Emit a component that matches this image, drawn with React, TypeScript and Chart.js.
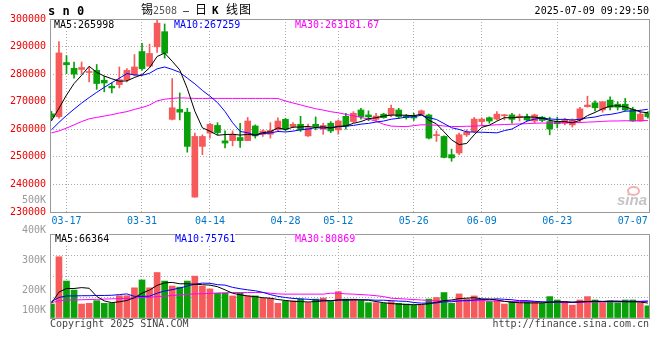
import React, { useEffect, useRef } from 'react';
import { Chart, registerables } from 'chart.js';

Chart.register(...registerables);

// ---------- data ----------
const dates = [
  '03-13','03-14','03-17','03-18','03-19','03-20','03-21','03-24','03-25','03-26',
  '03-27','03-28','03-31','04-01','04-02','04-03','04-07','04-08','04-09','04-10',
  '04-11','04-14','04-15','04-16','04-17','04-18','04-21','04-22','04-23','04-24',
  '04-25','04-28','04-29','04-30','05-06','05-07','05-08','05-09','05-12','05-13',
  '05-14','05-15','05-16','05-19','05-20','05-21','05-22','05-23','05-26','05-27',
  '05-28','05-29','05-30','06-03','06-04','06-05','06-06','06-09','06-10','06-11',
  '06-12','06-13','06-16','06-17','06-18','06-19','06-20','06-23','06-24','06-25',
  '06-26','06-27','06-30','07-01','07-02','07-03','07-04','07-07','07-08','07-09',
];

const opens = [
  265600,264600,284200,282100,281700,280600,281400,277800,275600,276200,
  278000,279800,288200,282900,289900,295400,263600,267200,266200,235400,
  253800,258600,261400,255800,255900,257000,255900,261200,258200,258200,
  259800,263600,261000,261800,257600,261800,260000,262200,259800,264700,
  262800,267000,265200,263600,265500,265200,267000,264900,264900,265400,
  265200,257700,257400,250800,251400,258000,259200,262800,264200,263700,
  264900,265200,264400,264600,263000,264400,262800,262800,262200,261600,
  263400,268200,269600,267000,270600,269100,269100,267200,263000,265800,
];
const highs = [
  266500,291800,286700,284400,284400,282600,283500,279200,276800,282600,
  282000,287100,291200,290900,299800,298200,278400,273200,267600,258600,
  258000,262200,262400,259400,259400,262200,264300,261600,259800,262400,
  264200,264000,262400,264700,261900,264500,262200,262800,263400,265800,
  266400,267600,266700,265800,265800,268800,267600,265400,265800,267000,
  265500,259400,257600,252800,258600,259800,264300,264200,264500,266400,
  265400,265800,265500,265500,265500,264600,264400,264400,264000,263800,
  268000,272000,270300,270000,271800,270000,271200,268000,267000,266400,
];
const lows = [
  263500,264000,280200,278500,280200,277200,274500,273600,273200,275000,
  277200,279300,281400,282600,287900,285800,263400,263400,251700,235400,
  250800,256800,258000,253200,254000,253400,255900,256800,257400,256800,
  259400,259400,260600,259200,257400,259800,258200,258800,258200,260000,
  262400,263700,263100,263000,264000,264600,264000,263700,263200,265000,
  256500,255600,249600,248400,250800,257400,258900,261200,262200,263400,
  263400,262200,263000,263000,262200,262800,258000,260500,261600,260800,
  262800,268000,266700,266200,267000,267000,266700,262900,262900,264000,
];
const closes = [
  264400,287700,283400,280000,282400,280800,276600,276800,275000,278000,
  281400,282600,282000,287500,298500,287600,267800,266200,253800,257400,
  257400,261800,258800,255000,258000,255900,263000,257600,259400,259600,
  263000,260000,261800,259800,260600,261000,261400,259400,263000,261200,
  265800,264600,264500,264800,264200,267600,264600,264200,264100,266700,
  256800,258000,249800,249600,258000,258900,263700,263700,263000,265500,
  265100,263600,264700,263400,265200,263200,260100,262000,263400,263200,
  267400,268800,267800,270000,268000,268000,267000,263000,265500,264600,
];

const ma5 = [
  263000,267600,272400,276600,279580,282860,280640,279320,278320,277440,
  277560,278760,279800,282300,286400,287640,284680,281520,274780,266560,
  260520,259320,257840,258080,258200,257900,258140,257900,258780,259100,
  260520,259920,260760,260840,261040,260640,260920,260440,261080,261200,
  262160,262800,263820,264180,264780,265140,265140,265080,264940,265440,
  263280,261960,259080,256180,254440,254860,258000,260700,261460,262960,
  264200,264180,264380,264460,264400,264020,263240,262780,262780,262380,
  263220,264960,266120,267440,268400,268520,268160,267200,266300,265998,
];
const ma10 = [
  259800,262500,265000,267300,269500,271500,273400,275200,276900,278510,
  280210,279700,279560,280310,281920,282600,281720,280660,278540,276480,
  274080,272000,269680,266430,262380,259210,258730,257870,258430,258650,
  259210,259030,259330,259810,260070,260580,260420,260600,260960,261120,
  261400,261860,262130,262630,262990,263650,263970,264450,264560,265110,
  264210,263550,262080,260560,259940,259070,258980,258930,258820,258700,
  259530,260090,261580,262960,263680,264110,263750,263580,263620,263390,
  263620,264140,264450,265110,265390,265870,266560,266660,266870,267259,
];
const ma30 = [
  258700,259400,260400,261600,262800,263800,264300,264800,265300,265900,
  266400,267200,267900,268800,270300,270900,271200,271400,271300,271200,
  271200,271200,271200,271200,271200,271200,271200,271200,271200,271213,
  271167,270243,269523,268850,268123,267463,266957,266377,265977,265417,
  264897,264297,263713,262957,261813,261147,261040,260973,261317,261627,
  261607,261480,261180,261000,261000,261100,261123,261327,261447,261643,
  261713,261833,261930,262050,262203,262277,262233,262320,262333,262400,
  262453,262593,262703,262877,263003,263017,263097,263057,263103,263181.67,
];

const volumes = [
  62000,272000,164000,124000,62000,65000,77000,65000,65000,99000,
  99000,134000,169000,134000,202000,164000,142000,137000,164000,186000,
  142000,129000,110000,110000,98000,110000,98000,98000,87000,87000,
  65000,76000,76000,84000,68000,84000,89000,73000,117000,84000,
  84000,77000,68000,68000,65000,73000,65000,62000,57000,57000,
  84000,91000,113000,65000,107000,84000,98000,80000,73000,77000,
  62000,73000,68000,73000,73000,65000,95000,80000,73000,57000,
  80000,95000,80000,68000,76000,68000,80000,80000,68000,54000,
];
const volMa5 = [
  65000,115000,131000,131000,135000,132000,96000,76000,68000,72000,
  78000,90000,110000,124000,145000,156000,158000,152000,152000,150000,
  148000,146000,139000,125000,110000,103000,98000,95000,90000,88000,
  82000,78000,74000,73000,71000,73000,76000,76000,80000,81000,
  81000,80000,79000,73000,68000,64000,62000,60000,59000,60000,
  63000,70000,77000,80000,86000,88000,90000,85000,84000,80000,
  74000,70000,68000,67000,67000,67000,70000,72000,72000,70000,
  72000,73000,73000,73000,75000,74000,72000,72000,71000,66364,
];
const volMa10 = [
  73000,91000,98000,98000,99000,99000,100000,100000,101000,104000,
  107000,96000,96000,97000,110000,120000,126000,133000,142000,150000,
  155000,154000,148000,146000,136000,130000,125000,121000,114000,104000,
  96000,91000,87000,85000,83000,80000,79000,77000,80000,79000,
  81000,81000,81000,79000,79000,77000,75000,74000,69000,66000,
  66000,67000,72000,72000,76000,77000,80000,82000,83000,85000,
  83000,81000,77000,77000,74000,72000,71000,71000,71000,70000,
  71000,73000,75000,74000,74000,75000,74000,74000,74000,75761,
];
const volMa30 = [
  68000,76000,80000,80000,81000,82000,83000,84000,85000,86000,
  87000,89000,91000,92000,95000,97000,100000,102000,105000,107000,
  108000,109000,111000,112000,113000,113000,113000,113000,113000,110000,
  107000,106000,106000,106000,106000,106000,106000,110000,110000,107000,
  106000,104000,102000,99000,95000,88000,86000,84000,82000,80000,
  78000,76000,76000,76000,77000,77000,77000,77000,76000,75000,
  74000,73000,73000,73000,72000,71000,70000,69000,68000,69000,
  70000,70000,71000,71000,72000,72000,72000,73000,73000,73000,
];

const priceTicks = [230000, 240000, 250000, 260000, 270000, 280000, 290000, 300000];
const dateTickIdx = [2, 12, 21, 31, 38, 48, 57, 67, 77];
const volAxisValues = [500000, 400000, 300000, 200000, 100000];
const volAxisLabels = ['500K', '400K', '300K', '200K', '100K'];

// ---------- styles ----------
const RED = '#f65a5a';
const GREEN = '#0aa00a';
const GRID = '#aaaaaa';
const FRAME = '#999999';
const MONO = '"DejaVu Sans Mono", monospace';
const CJK = '"Noto Sans CJK SC", sans-serif';
const X_MIN = -0.185;
const X_MAX = 79.15;
const VOL_MAX = 373000;
const VOL_LABEL_MIN = 109000;
const VOL_LABEL_MAX = 389000;

const framePlugin = {
  id: 'frame',
  afterDraw(chart: any) {
    const { ctx, chartArea } = chart;
    const l = Math.round(chartArea.left), t = Math.round(chartArea.top);
    const r = Math.round(chartArea.right), b = Math.round(chartArea.bottom);
    ctx.save();
    ctx.strokeStyle = FRAME;
    ctx.lineWidth = 1;
    ctx.setLineDash([]);
    ctx.strokeRect(l + 0.5, t + 0.5, r - l, b - t);
    ctx.restore();
  },
};

const volLabelPlugin = {
  id: 'volLabels',
  afterDraw(chart: any) {
    const s = chart.scales.yl;
    const { ctx, chartArea } = chart;
    ctx.save();
    ctx.font = '10px ' + MONO;
    ctx.fillStyle = '#999999';
    ctx.textAlign = 'right';
    ctx.textBaseline = 'middle';
    volAxisValues.forEach((v, k) => {
      let y = s.getPixelForValue(v);
      y = Math.min(y, chartArea.bottom - 8);
      ctx.fillText(volAxisLabels[k], chartArea.left - 4, y);
    });
    ctx.restore();
  },
};

function xScale(showLabels: boolean) {
  return {
    type: 'linear',
    min: X_MIN,
    max: X_MAX,
    offset: false,
    bounds: 'data',
    afterBuildTicks: (s: any) => {
      s.ticks = dateTickIdx.map((v) => ({ value: v }));
    },
    afterFit: (s: any) => {
      s.height = showLabels ? 23 : 0;
    },
    ticks: {
      display: showLabels,
      autoSkip: false,
      maxRotation: 0,
      padding: 3,
      color: '#0077cc',
      font: { family: MONO, size: 10 },
      callback: (v: any) => dates[v] ?? '',
    },
    grid: {
      drawTicks: false,
      offset: false,
      lineWidth: 1,
      color: (c: any) => (c.tick && c.tick.value === 77 ? 'rgba(0,0,0,0)' : GRID),
    },
    border: { display: false, dash: [1, 2] },
  };
}

export default function App() {
  const priceRef = useRef<HTMLCanvasElement>(null);
  const volRef = useRef<HTMLCanvasElement>(null);

  useEffect(() => {
    const idx = dates.map((_, i) => i);
    const colors = idx.map((i) => (closes[i] >= opens[i] ? RED : GREEN));
    const line = (label: string, arr: number[], color: string) => ({
      type: 'line',
      label,
      data: idx.map((i) => ({ x: i, y: arr[i] })),
      borderColor: color,
      borderWidth: 1,
      pointRadius: 0,
      tension: 0,
      fill: false,
      order: 0,
    });

    const price = new Chart(priceRef.current as HTMLCanvasElement, {
      type: 'bar',
      data: {
        datasets: [
          line('MA5', ma5, '#000000'),
          line('MA10', ma10, '#0000ff'),
          line('MA30', ma30, '#ff00ff'),
          {
            type: 'bar',
            label: 'body',
            data: idx.map((i) => ({ x: i, y: [Math.min(opens[i], closes[i]), Math.max(opens[i], closes[i])] })),
            backgroundColor: colors,
            barThickness: 6,
            minBarLength: 1,
            grouped: false,
            order: 1,
          },
          {
            type: 'bar',
            label: 'wick',
            data: idx.map((i) => ({ x: i, y: [lows[i], highs[i]] })),
            backgroundColor: colors,
            barThickness: 1,
            grouped: false,
            order: 2,
          },
        ],
      } as any,
      options: {
        animation: false,
        responsive: false,
        maintainAspectRatio: false,
        devicePixelRatio: 1,
        events: [],
        layout: { padding: { left: 0, right: 11, top: 19, bottom: 0 } },
        plugins: { legend: { display: false }, tooltip: { enabled: false } },
        scales: {
          x: xScale(true),
          y: {
            type: 'linear',
            min: 230000,
            max: 300000,
            beginAtZero: false,
            afterBuildTicks: (s: any) => {
              s.ticks = priceTicks.map((v) => ({ value: v }));
            },
            afterFit: (s: any) => {
              s.width = 50;
            },
            ticks: {
              padding: 4,
              color: '#ee0000',
              font: { family: MONO, size: 10 },
              callback: (v: any) => String(v),
            },
            grid: { drawTicks: false, color: GRID, lineWidth: 1 },
            border: { display: false, dash: [1, 2] },
          },
        },
      } as any,
      plugins: [framePlugin],
    });

    const vol = new Chart(volRef.current as HTMLCanvasElement, {
      type: 'bar',
      data: {
        datasets: [
          line('MA5', volMa5, '#000000'),
          line('MA10', volMa10, '#0000ff'),
          line('MA30', volMa30, '#ff00ff'),
          {
            type: 'bar',
            label: 'vol',
            data: idx.map((i) => ({ x: i, y: volumes[i] })),
            backgroundColor: colors,
            barThickness: 6,
            grouped: false,
            order: 1,
          },
        ],
      } as any,
      options: {
        animation: false,
        responsive: false,
        maintainAspectRatio: false,
        devicePixelRatio: 1,
        events: [],
        layout: { padding: { left: 0, right: 11, top: 44, bottom: 2 } },
        plugins: { legend: { display: false }, tooltip: { enabled: false } },
        scales: {
          x: xScale(false),
          y: {
            type: 'linear',
            min: 0,
            max: VOL_MAX,
            afterBuildTicks: (s: any) => {
              s.ticks = [0, 1, 2, 3, 4].map((k) => ({ value: (VOL_MAX * k) / 4 }));
            },
            afterFit: (s: any) => {
              s.width = 50;
            },
            ticks: { display: false },
            grid: { drawTicks: false, color: GRID, lineWidth: 1 },
            border: { display: false, dash: [1, 2] },
          },
          yl: {
            type: 'linear',
            axis: 'y',
            display: false,
            min: VOL_LABEL_MIN,
            max: VOL_LABEL_MAX,
          },
        },
      } as any,
      plugins: [framePlugin, volLabelPlugin],
    });

    return () => {
      price.destroy();
      vol.destroy();
    };
  }, []);

  const txt = (
    left: number | undefined,
    top: number,
    color: string,
    content: string,
    extra: any = {}
  ) => (
    <div
      style={{
        position: 'absolute',
        left,
        top,
        color,
        fontFamily: MONO,
        fontSize: 10,
        lineHeight: '10px',
        whiteSpace: 'pre',
        ...extra,
      }}
    >
      {content}
    </div>
  );

  const cjk = { fontFamily: CJK, fontSize: 12, lineHeight: '12px' };

  return (
    <div
      style={{
        position: 'absolute',
        left: 0,
        top: 0,
        width: 660,
        height: 360,
        background: '#ffffff',
        overflow: 'hidden',
      }}
    >
      <canvas
        ref={priceRef}
        width={660}
        height={235}
        style={{ position: 'absolute', left: 0, top: 0, width: 660, height: 235 }}
      />
      <canvas
        ref={volRef}
        width={660}
        height={130}
        style={{ position: 'absolute', left: 0, top: 190, width: 660, height: 130 }}
      />
      {txt(48, 5, '#000', 's n 0', { fontWeight: 'bold', fontSize: 12, lineHeight: '12px' })}
      {txt(141, 3, '#000', '锡', cjk)}
      {txt(153, 6, '#555', '2508', {})}
      {txt(183, 6, '#000', '–', {})}
      {txt(195, 3, '#000', '日', cjk)}
      {txt(212, 5, '#000', 'K', { fontWeight: 'bold', fontSize: 11, lineHeight: '11px' })}
      {txt(226, 3, '#000', '线图', { ...cjk, letterSpacing: 1 })}
      {txt(undefined, 6, '#000', '2025-07-09 09:29:50', { right: 11 })}
      {txt(54, 20, '#000000', 'MA5:265998', { background: '#fff' })}
      {txt(174, 20, '#0000ff', 'MA10:267259', { background: '#fff' })}
      {txt(295, 20, '#ff00ff', 'MA30:263181.67', { background: '#fff' })}
      {txt(55, 234, '#000000', 'MA5:66364', { background: '#fff' })}
      {txt(175, 234, '#0000ff', 'MA10:75761', { background: '#fff' })}
      {txt(295, 234, '#ff00ff', 'MA30:80869', { background: '#fff' })}
      {txt(50, 319, '#444', 'Copyright 2025 SINA.COM')}
      {txt(undefined, 319, '#444', 'http://finance.sina.com.cn', { right: 11 })}
      <div
        style={{
          position: 'absolute',
          left: 627,
          top: 186,
          width: 9,
          height: 6,
          border: '2px solid #f3b0b0',
          borderRadius: '50%',
        }}
      />
      {txt(617, 192, '#c4c4c4', 'sina', {
        fontFamily: '"Liberation Sans", sans-serif',
        fontSize: 15,
        lineHeight: '15px',
        fontWeight: 'bold',
        fontStyle: 'italic',
      })}
    </div>
  );
}
